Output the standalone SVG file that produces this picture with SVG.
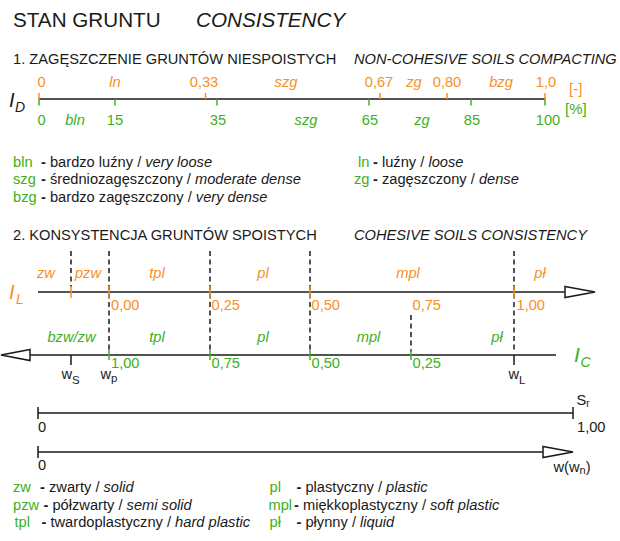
<svg xmlns="http://www.w3.org/2000/svg" width="620" height="541" viewBox="0 0 620 541">
<style>
text{font-family:"Liberation Sans",Arial,sans-serif;font-size:14.67px;fill:#1a1a1a}
.i{font-style:italic}
.b{font-weight:bold}
.o{fill:#F7901E}
.g{fill:#3DB020}
.m{text-anchor:middle}
.ax{stroke:#1a1a1a;stroke-width:1.7;fill:none}
.to{stroke:#F7901E;stroke-width:1.5}
.tg{stroke:#3DB020;stroke-width:1.5}
.tk{stroke:#1a1a1a;stroke-width:1.5}
.dash{stroke:#1a1a1a;stroke-width:1.5;stroke-dasharray:5 3.5;fill:none}
.arr{fill:#fff;stroke:#1a1a1a;stroke-width:1.5}
</style>
<rect width="620" height="541" fill="#fff"/>

<g id="title">
<text x="13" y="27" style="font-size:20.67px">STAN GRUNTU</text>
<text x="196" y="27" class="i" style="font-size:20.67px">CONSISTENCY</text>
</g>

<g id="section1-header">
<text x="13" y="63.5">1. ZAGĘSZCZENIE GRUNTÓW NIESPOISTYCH</text>
<text x="354" y="63.5" class="i">NON-COHESIVE SOILS COMPACTING</text>
</g>

<g id="ID-axis">
<text x="9" y="107" class="i" style="font-size:20px">I</text>
<text x="15" y="111.7" class="i" style="font-size:14px">D</text>
<line class="ax" x1="39" y1="99" x2="545" y2="99"/>
<g class="to">
<line x1="39" y1="93" x2="39" y2="99"/><line x1="205.5" y1="93" x2="205.5" y2="99"/>
<line x1="380" y1="93" x2="380" y2="99"/><line x1="447" y1="93" x2="447" y2="99"/>
<line x1="545" y1="93" x2="545" y2="99"/>
</g>
<g class="tg">
<line x1="39" y1="99" x2="39" y2="105.5"/><line x1="115" y1="99" x2="115" y2="105.5"/>
<line x1="217" y1="99" x2="217" y2="105.5"/><line x1="369" y1="99" x2="369" y2="105.5"/>
<line x1="471" y1="99" x2="471" y2="105.5"/><line x1="545" y1="99" x2="545" y2="105.5"/>
</g>
<text x="37.5" y="87" class="o">0</text>
<text x="115" y="87" class="o i m">ln</text>
<text x="204" y="87" class="o m">0,33</text>
<text x="286" y="87" class="o i m">szg</text>
<text x="379" y="87" class="o m">0,67</text>
<text x="414" y="87" class="o i m">zg</text>
<text x="447" y="87" class="o m">0,80</text>
<text x="501" y="87" class="o i m">bzg</text>
<text x="546" y="87" class="o m">1,0</text>
<text x="569" y="93.5" class="o" style="font-size:15px">[-]</text>
<text x="37.5" y="124.5" class="g">0</text>
<text x="75" y="124.5" class="g i m">bln</text>
<text x="115" y="124.5" class="g m">15</text>
<text x="218" y="124.5" class="g m">35</text>
<text x="306" y="124.5" class="g i m">szg</text>
<text x="370" y="124.5" class="g m">65</text>
<text x="422" y="124.5" class="g i m">zg</text>
<text x="472" y="124.5" class="g m">85</text>
<text x="548" y="124.5" class="g m">100</text>
<text x="565" y="113.5" class="g" style="font-size:15px">[%]</text>
</g>

<g id="legend1">
<text x="13" y="166.5" class="g">bln</text>
<text x="41" y="166.5"><tspan class="b">-</tspan> bardzo luźny / <tspan class="i">very loose</tspan></text>
<text x="13" y="184" class="g">szg</text>
<text x="41" y="184"><tspan class="b">-</tspan> średniozagęszczony / <tspan class="i">moderate dense</tspan></text>
<text x="13" y="201.5" class="g">bzg</text>
<text x="41" y="201.5"><tspan class="b">-</tspan> bardzo zagęszczony / <tspan class="i">very dense</tspan></text>
<text x="358" y="166.5" class="g">ln</text>
<text x="373" y="166.5"><tspan class="b">-</tspan> luźny / <tspan class="i">loose</tspan></text>
<text x="354" y="184" class="g">zg</text>
<text x="373" y="184"><tspan class="b">-</tspan> zagęszczony / <tspan class="i">dense</tspan></text>
</g>

<g id="section2-header">
<text x="13" y="240">2. KONSYSTENCJA GRUNTÓW SPOISTYCH</text>
<text x="354" y="240" class="i">COHESIVE SOILS CONSISTENCY</text>
</g>

<g id="limits">
<line class="dash" x1="71" y1="251" x2="71" y2="287"/>
<line class="dash" x1="109" y1="251" x2="109" y2="352"/>
<line class="dash" x1="210" y1="251" x2="210" y2="352"/>
<line class="dash" x1="310" y1="251" x2="310" y2="352"/>
<line class="dash" x1="411" y1="315" x2="411" y2="352"/>
<line class="dash" x1="514" y1="251" x2="514" y2="352"/>
</g>

<g id="IL-axis">
<text x="9" y="299" class="o i" style="font-size:20px">I</text>
<text x="16" y="304" class="o i" style="font-size:14px">L</text>
<line class="ax" x1="38" y1="292" x2="566" y2="292"/>
<polygon class="arr" points="565,286.5 595,292 565,297.5"/>
<g class="to">
<line x1="71" y1="286" x2="71" y2="298"/><line x1="109" y1="286" x2="109" y2="298"/>
<line x1="210" y1="286" x2="210" y2="298"/><line x1="310" y1="286" x2="310" y2="298"/>
<line x1="514" y1="286" x2="514" y2="298"/>
</g>
<text x="46" y="278" class="o i m">zw</text>
<text x="88" y="278" class="o i m">pzw</text>
<text x="157" y="278" class="o i m">tpl</text>
<text x="263" y="278" class="o i m">pl</text>
<text x="408" y="278" class="o i m">mpl</text>
<text x="540" y="278" class="o i m">pł</text>
<text x="111" y="310" class="o">0,00</text>
<text x="211.5" y="310" class="o">0,25</text>
<text x="311.5" y="310" class="o">0,50</text>
<text x="412.5" y="310" class="o">0,75</text>
<text x="516.5" y="310" class="o">1,00</text>
</g>

<g id="IC-axis">
<line class="ax" x1="29" y1="355" x2="556" y2="355"/>
<polygon class="arr" points="30,349.5 1,355 30,360.5"/>
<g class="tg">
<line x1="109" y1="349" x2="109" y2="360"/><line x1="210" y1="349" x2="210" y2="360"/>
<line x1="310" y1="349" x2="310" y2="360"/><line x1="411" y1="349" x2="411" y2="360"/>
</g>
<g class="tk">
<line x1="71" y1="355" x2="71" y2="365"/><line x1="514" y1="355" x2="514" y2="365"/>
</g>
<text x="71.5" y="341.5" class="g i m">bzw/zw</text>
<text x="157" y="341.5" class="g i m">tpl</text>
<text x="263" y="341.5" class="g i m">pl</text>
<text x="368.5" y="341.5" class="g i m">mpl</text>
<text x="497" y="341.5" class="g i m">pł</text>
<text x="111" y="368" class="g">1,00</text>
<text x="211.5" y="368" class="g">0,75</text>
<text x="311.5" y="368" class="g">0,50</text>
<text x="412.5" y="368" class="g">0,25</text>
<text x="574" y="362" class="g i" style="font-size:21px">I</text>
<text x="580.5" y="367" class="g i" style="font-size:14px">C</text>
<text x="61.5" y="379">w<tspan y="384" style="font-size:11.5px">S</tspan></text>
<text x="100.5" y="379">w<tspan y="381.5" style="font-size:11.5px">p</tspan></text>
<text x="508.5" y="379">w<tspan y="383.5" style="font-size:11.5px">L</tspan></text>
</g>

<g id="Sr-axis">
<line class="ax" x1="38" y1="413" x2="573" y2="413"/>
<line class="tk" x1="38" y1="407" x2="38" y2="419"/>
<line class="tk" x1="573" y1="407" x2="573" y2="419"/>
<text x="38" y="432">0</text>
<text x="577" y="432">1,00</text>
<text x="576.5" y="405">S<tspan y="407" style="font-size:10px">r</tspan></text>
</g>

<g id="w-axis">
<line class="ax" x1="38" y1="452" x2="544" y2="452"/>
<line class="tk" x1="38" y1="446" x2="38" y2="458"/>
<polygon class="arr" points="543,446.5 573,452 543,457.5"/>
<text x="38" y="470">0</text>
<text x="553.5" y="472">w(w<tspan y="474" style="font-size:11px">n</tspan><tspan y="472">)</tspan></text>
</g>

<g id="legend2">
<text x="13" y="492" class="g">zw</text>
<text x="40" y="492"><tspan class="b">-</tspan> zwarty / <tspan class="i">solid</tspan></text>
<text x="13" y="509.5" class="g">pzw</text>
<text x="43.5" y="509.5"><tspan class="b">-</tspan> półzwarty / <tspan class="i">semi solid</tspan></text>
<text x="14.5" y="527" class="g">tpl</text>
<text x="41.5" y="527"><tspan class="b">-</tspan> twardoplastyczny / <tspan class="i">hard plastic</tspan></text>
<text x="269.5" y="492" class="g">pl</text>
<text x="296.5" y="492"><tspan class="b">-</tspan> plastyczny / <tspan class="i">plastic</tspan></text>
<text x="268.5" y="509.5" class="g">mpl</text>
<text x="294" y="509.5"><tspan class="b">-</tspan> miękkoplastyczny / <tspan class="i">soft plastic</tspan></text>
<text x="269.5" y="527" class="g">pł</text>
<text x="296.5" y="527"><tspan class="b">-</tspan> płynny / <tspan class="i">liquid</tspan></text>
</g>
</svg>
